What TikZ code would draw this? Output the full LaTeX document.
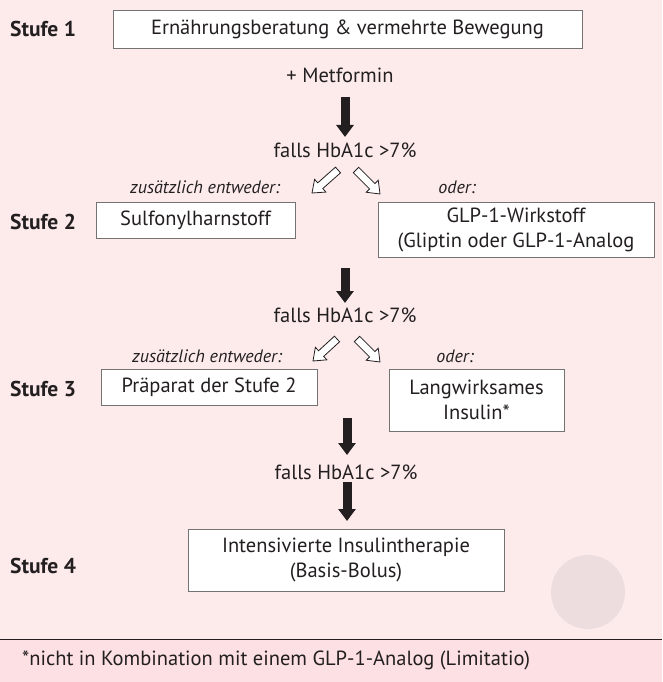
\documentclass[tikz,border=0pt]{standalone}
\usepackage{fontspec}
\setmainfont{PT Sans}
\usetikzlibrary{arrows.meta,calc}
\definecolor{bgtop}{HTML}{FDEBEC}
\definecolor{bgbot}{HTML}{FCE0E3}
\definecolor{circ}{HTML}{EDDDDE}
\definecolor{txt}{HTML}{231F20}
\newcommand\hollowarr[2]{%
  \coordinate (hb) at ($(#2)!11pt!(#1)$);
  \filldraw[draw=txt,fill=white,line width=0.8pt,line join=miter]
    ($(#1)!3.8pt!90:(#2)$) -- ($(hb)!3.8pt!90:(#2)$) -- ($(hb)!8.5pt!90:(#2)$) -- (#2)
    -- ($(hb)!8.5pt!-90:(#2)$) -- ($(hb)!3.8pt!-90:(#2)$) -- ($(#1)!3.8pt!-90:(#2)$) -- cycle;}
\begin{document}
\begin{tikzpicture}[x=1pt,y=-1pt,
  every node/.style={text=txt},
  txtbox/.style={draw=black!55,fill=white,line width=0.8pt,inner sep=0pt,align=center,font=\fontsize{20.5}{25}\selectfont},
  stufe/.style={anchor=west,inner sep=0pt,font=\fontsize{21.5}{25}\selectfont\bfseries},
  plain/.style={font=\fontsize{20.5}{25}\selectfont},
  itl/.style={font=\fontsize{18}{21}\selectfont\itshape},
  thick arrow/.style={line width=9pt,draw=txt,-{Triangle[width=17pt 0,length=12pt 0]}}]
\useasboundingbox (0,0) rectangle (662,682);
\fill[bgtop] (0,0) rectangle (662,639);
\fill[bgbot] (0,639) rectangle (662,682);
\draw[txt,line width=1pt] (0,639) -- (662,639);
\fill[circ] (588,592) circle (37);

% Stufe labels
\node[stufe] (s1) at (10,29) {Stufe 1};
\node[stufe] (s2) at (10,222) {Stufe 2};
\node[stufe] (s3) at (10,389) {Stufe 3};
\node[stufe] (s4) at (10,566) {Stufe 4};

% boxes
\node[txtbox,minimum width=469pt,minimum height=38pt] (b1) at (347.5,29) {Ernährungsberatung \& vermehrte Bewegung};
\node[plain] (met) at (340,75) {+ Metformin};
\node[plain] (f1) at (345,150) {falls HbA1c >7\%};
\node[itl] (z1) at (205,187) {zusätzlich entweder:};
\node[itl] (o1) at (457,187) {oder:};
\node[txtbox,minimum width=199pt,minimum height=36pt] (b2a) at (195.5,220) {Sulfonylharnstoff};
\node[txtbox,minimum width=276pt,minimum height=55pt] (b2b) at (516,229.5) {GLP-1-Wirkstoff\\(Gliptin oder GLP-1-Analog};

\node[plain] (f2) at (345,315) {falls HbA1c >7\%};
\node[itl] (z2) at (207,356) {zusätzlich entweder:};
\node[itl] (o2) at (455,356) {oder:};
\node[txtbox,minimum width=216pt,minimum height=36pt] (b3a) at (209,387) {Präparat der Stufe 2};
\node[txtbox,minimum width=175pt,minimum height=62pt] (b3b) at (476.5,400) {Langwirksames\\Insulin*};

\node[plain] (f3) at (346,472) {falls HbA1c >7\%};
\node[txtbox,minimum width=316pt,minimum height=62pt] (b4) at (346,560) {Intensivierte Insulintherapie\\(Basis-Bolus)};

\node[anchor=west,inner sep=0pt,font=\fontsize{20.5}{25}\selectfont] (fn) at (22,660) {*nicht in Kombination mit einem GLP-1-Analog (Limitatio)};

% thick arrows
\coordinate (a1s) at (345,97);  \coordinate (a1e) at (345,137);
\coordinate (a2s) at (345,268); \coordinate (a2e) at (345,303);
\coordinate (a3s) at (347,418); \coordinate (a3e) at (347,455);
\coordinate (a4s) at (347,482); \coordinate (a4e) at (347,521);
\draw[thick arrow] (a1s) -- (a1e);
\draw[thick arrow] (a2s) -- (a2e);
\draw[thick arrow] (a3s) -- (a3e);
\draw[thick arrow] (a4s) -- (a4e);

% hollow arrows
\coordinate (h1s) at (338,170); \coordinate (h1e) at (312,193);
\coordinate (h2s) at (356,170); \coordinate (h2e) at (380,194);
\coordinate (h3s) at (337,339); \coordinate (h3e) at (313,361);
\coordinate (h4s) at (357,339); \coordinate (h4e) at (380,362);
\hollowarr{h1s}{h1e}
\hollowarr{h2s}{h2e}
\hollowarr{h3s}{h3e}
\hollowarr{h4s}{h4e}
\end{tikzpicture}
\end{document}
